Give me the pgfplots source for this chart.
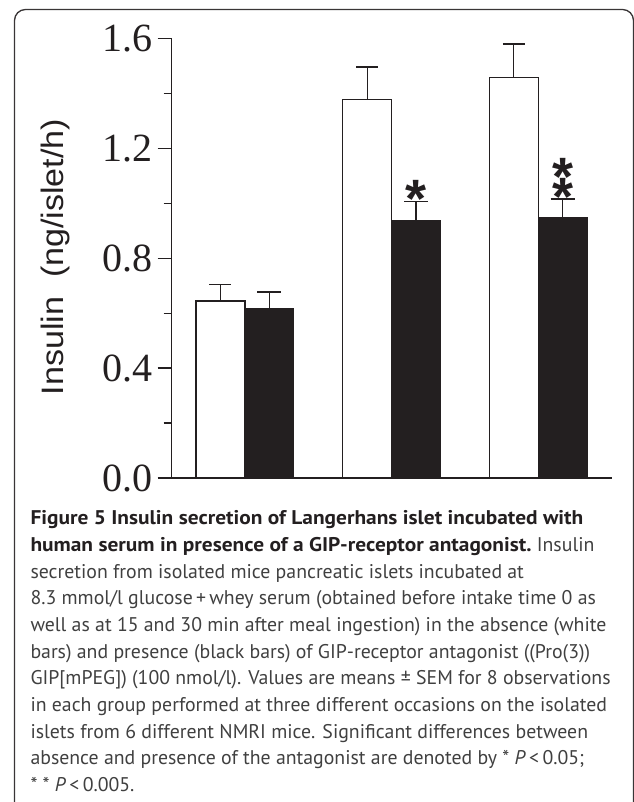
\documentclass[border=0pt]{standalone}
\usepackage{graphicx}
\usepackage{pgfplots}
\pgfplotsset{compat=1.18}
\usepackage{fontspec}
\setmainfont{PT Sans}
\newfontfamily\serifnum{Liberation Serif}
\newfontfamily\arialf{Liberation Sans}
\definecolor{ink}{HTML}{231F20}
\definecolor{captxt}{HTML}{404040}
\newcommand{\bt}[1]{\scalebox{1.08}[1]{\textbf{\color{ink}#1}}}
\begin{document}
\begin{tikzpicture}[x=1pt,y=1pt]
\useasboundingbox (0,0) rectangle (633,802);
\draw[ink!90, line width=1.3pt, rounded corners=11pt] (14.5,-30) -- (14.5,792.5) -- (633.5,792.5) -- (633.5,-30);
\begin{axis}[
  at={(171.6pt,324pt)}, anchor=south west,
  scale only axis, width=440pt, height=439.5pt,
  xmin=0.5, xmax=3.5, ymin=0, ymax=1.6,
  axis x line*=bottom, axis y line*=left,
  axis line style={ink, line width=1.3pt},
  xtick=\empty,
  ytick={0,0.4,0.8,1.2,1.6},
  minor ytick={0.2,0.6,1.0,1.4},
  tick align=outside,
  major tick length=14pt, minor tick length=8pt,
  every tick/.style={ink, line width=1.3pt},
  yticklabel style={/pgf/number format/fixed, /pgf/number format/fixed zerofill, /pgf/number format/precision=1, /pgf/number format/assume math mode=true, font=\serifnum\fontsize{40}{40}\selectfont, inner sep=0pt, text=ink, xshift=-5pt},
  ybar=0pt, bar width=0.3333,
  clip=false,
]
\addplot[ybar, fill=white, draw=ink, line width=1.2pt,
  error bars/.cd, y dir=plus, y explicit,
  error bar style={ink, line width=1.3pt},
  error mark options={rotate=90, ink, line width=1.3pt, mark size=11pt}]
  coordinates {(1,0.644) +- (0,0.061) (2,1.377) +- (0,0.119) (3,1.457) +- (0,0.123)};
\addplot[ybar, fill=ink, draw=ink, line width=1.2pt,
  error bars/.cd, y dir=plus, y explicit,
  error bar style={ink, line width=1.3pt},
  error mark options={rotate=90, ink, line width=1.3pt, mark size=12pt}]
  coordinates {(1,0.618) +- (0,0.059) (2,0.938) +- (0,0.069) (3,0.949) +- (0,0.067)};
\node[inner sep=0pt, anchor=base, font=\arialf\bfseries\fontsize{54}{54}\selectfont, text=ink, yshift=-31pt] at (axis cs:2.1667,1.060) {*};
\node[inner sep=0pt, anchor=base, font=\arialf\bfseries\fontsize{54}{54}\selectfont, text=ink, yshift=-31pt] at (axis cs:3.1667,1.068) {\rlap{\raisebox{19.8pt}{*}}*};
\end{axis}
\node[rotate=90, anchor=base, inner sep=0pt, font=\arialf\fontsize{31}{31}\selectfont, text=ink] at (63,545) {\scalebox{1.1}[1]{Insulin\hspace{0.55em}(ng/islet/h)}};
\begin{scope}[every node/.style={anchor=base west, inner sep=0pt, text=captxt, font=\fontsize{19.8}{19.8}\selectfont}]
\node at (30.3,277.0) {\bt{Figure 5 Insulin secretion of Langerhans islet incubated with}};
\node at (30.3,250.3) {\bt{human serum in presence of a GIP-receptor antagonist.} Insulin};
\node at (30.3,223.7) {secretion from isolated mice pancreatic islets incubated at};
\node at (30.3,197.0) {8.3 mmol/l glucose\,+\,whey serum (obtained before intake time 0 as};
\node at (30.3,170.3) {well as at 15 and 30 min after meal ingestion) in the absence (white};
\node at (30.3,143.7) {bars) and presence (black bars) of GIP-receptor antagonist ((Pro(3))};
\node at (30.3,117.0) {GIP[mPEG]) (100 nmol/l). Values are means ± SEM for 8 observations};
\node at (30.3,90.3) {in each group performed at three different occasions on the isolated};
\node at (30.3,63.7) {islets from 6 different NMRI mice. Significant differences between};
\node at (30.3,37.0) {absence and presence of the antagonist are denoted by * \textit{P}\,<\,0.05;};
\node at (30.3,10.3) {* * \textit{P}\,<\,0.005.};
\end{scope}
\end{tikzpicture}
\end{document}
